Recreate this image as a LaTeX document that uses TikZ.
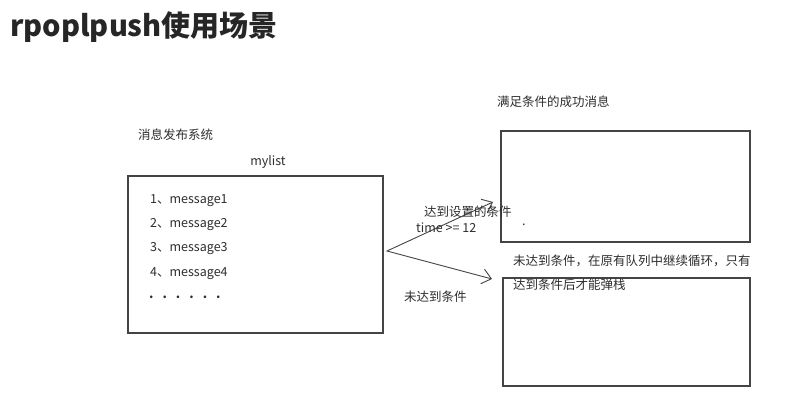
\documentclass[tikz,border=0pt]{standalone}
\usepackage{fontspec}
\setmainfont{Noto Sans CJK SC}
\usetikzlibrary{arrows.meta}
\definecolor{inkgray}{HTML}{2E2E2E}
\definecolor{linegray}{HTML}{444444}
\tikzset{
  txt/.style={anchor=west, inner sep=0pt, text=inkgray, font=\fontsize{12.5}{14}\selectfont},
  listbox/.style={draw=linegray, line width=1.2pt, inner sep=0pt},
  barb/.style={draw=linegray, line width=0.9pt, {Straight Barb[length=9pt,width=15pt]}-{Straight Barb[length=9pt,width=15pt]}}
}
\newcommand{\gapdot}{.\hspace{9pt}}
\begin{document}
\begin{tikzpicture}[x=1pt,y=-1pt]
  \useasboundingbox[fill=white] (0,0) rectangle (808,401);
  \node[anchor=west, inner sep=0pt, text=black!85, font=\bfseries\fontsize{29}{32}\selectfont] (title) at (10,27) {rpoplpush使用场景};
  % left side: the publishing system
  \node[txt] (pub) at (138,135) {消息发布系统};
  \node[txt, anchor=center] (listname) at (268,162) {mylist};
  \node[listbox, minimum width=255pt, minimum height=157pt] (mylist) at (255.5,254.5) {};
  \foreach \i/\y in {1/201,2/225,3/249,4/274}
    \node[txt] (msg\i) at (150,\y) {\i、message\i};
  \node[txt, font=\bfseries\fontsize{12.5}{14}\selectfont] (more) at (149,297) {\gapdot\gapdot\gapdot\gapdot\gapdot.};
  % right side: the two target lists
  \node[txt] (donelabel) at (497,102) {满足条件的成功消息};
  \node[listbox, minimum width=249pt, minimum height=111pt] (done) at (625.5,186.5) {};
  \node[txt] (dot) at (522,225) {.};
  \node[listbox, minimum width=247pt, minimum height=108pt] (loop) at (626.5,332) {};
  \node[txt] (loopnote1) at (513,261) {未达到条件，在原有队列中继续循环，只有};
  \node[txt] (loopnote2) at (513,285) {达到条件后才能弹栈};
  % the fork between them
  \coordinate (fork) at (387,251);
  \coordinate (hit) at (493,202);
  \coordinate (miss) at (492,279);
  \draw[barb] (hit) -- (fork) -- (miss);
  \node[txt] (hitlabel) at (424,212) {达到设置的条件};
  \node[txt] (hittime) at (416,228) {time >= 12};
  \node[txt] (misslabel) at (404,297) {未达到条件};
\end{tikzpicture}
\end{document}
